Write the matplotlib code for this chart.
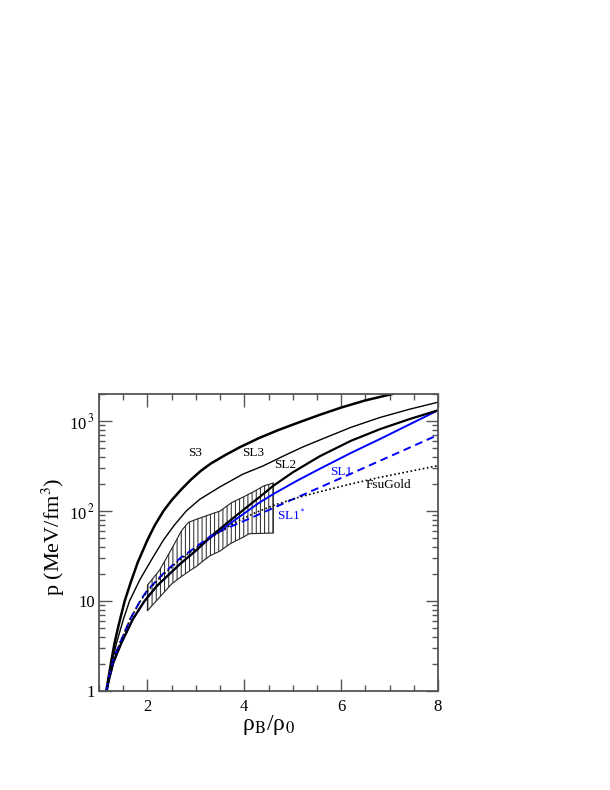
import numpy as np
import matplotlib
matplotlib.use("Agg")
import matplotlib.pyplot as plt
from matplotlib.ticker import FixedLocator, MultipleLocator, LogLocator, NullFormatter

plt.rcParams['font.family'] = ['Liberation Serif', 'DejaVu Serif']
plt.rcParams['mathtext.fontset'] = 'stix'
plt.rcParams['hatch.linewidth'] = 0.7

# ---- data (rho_B/rho_0 , pressure MeV/fm^3) ----
s3_x = [1.15, 1.2, 1.25, 1.32, 1.4, 1.53, 1.65, 1.8, 2.0, 2.15, 2.33, 2.5, 2.7, 2.9, 3.1,
        3.3, 3.6, 3.91, 4.3, 4.7, 5.1, 5.56, 6.0, 6.5, 7.05]
s3_p = [1.0, 1.445, 2.09, 3.39, 5.25, 10, 15.8, 26.9, 47.6, 69.2, 100, 132, 174, 224, 279,
        335, 417, 513, 646, 794, 955, 1175, 1413, 1698, 1995]

sl3_x = [1.15, 1.2, 1.28, 1.36, 1.5, 1.63, 1.85, 2.08, 2.33, 2.55, 2.8, 3.08, 3.5, 3.97,
         4.38, 4.8, 5.2, 5.56, 6.2, 6.8, 7.4, 8.0]
sl3_p = [1.0, 1.41, 2.19, 3.39, 6.17, 10, 17.5, 28.5, 47.6, 69.2, 100, 135, 186, 257,
         316, 407, 513, 617, 851, 1096, 1349, 1622]

sl2_x = [1.16, 1.2, 1.3, 1.46, 1.7, 1.94, 2.2, 2.67, 3.0, 3.29, 3.65, 4.0, 4.3, 4.6, 5.0,
         5.56, 6.2, 6.8, 7.4, 8.0]
sl2_p = [1.0, 1.3, 2.1, 3.4, 6.3, 10, 14.8, 25.7, 36.3, 51.3, 74.1, 105, 141, 191, 269,
         407, 603, 813, 1047, 1318]

sl1_x = [1.16, 1.2, 1.3, 1.46, 1.7, 1.94, 2.2, 2.67, 3.0, 3.29, 3.65, 4.0, 4.3, 4.63, 5.1,
         5.56, 6.2, 6.8, 7.4, 8.0]
sl1_p = [1.0, 1.3, 2.1, 3.4, 6.3, 10, 14.8, 25.7, 36.3, 50.1, 69.2, 94.4, 123, 158, 219,
         295, 442, 631, 912, 1318]

sl1s_x = [1.15, 1.2, 1.3, 1.43, 1.65, 1.87, 2.0, 2.3, 2.67, 3.0, 3.29, 3.6, 4.12, 5.0, 6.18, 8.0]
sl1s_p = [1.0, 1.41, 2.29, 3.39, 6.4, 10.5, 13.2, 19.5, 29.8, 39.8, 52, 63, 83, 135, 257, 701]

fsu_x = [1.15, 1.2, 1.3, 1.43, 1.65, 1.87, 2.0, 2.3, 2.67, 3.0, 3.29, 3.8, 4.2, 4.63, 5.1,
         5.56, 6.2, 6.8, 7.4, 8.0]
fsu_p = [1.0, 1.41, 2.29, 3.39, 6.4, 10.3, 12.9, 19.1, 28.8, 38.9, 50.1, 74.1, 94.4, 117, 141,
         164, 200, 237, 275, 320]

# flow constraint band (upper / lower boundaries)
band_up_x = [2.0, 2.25, 2.5, 2.7, 2.85, 3.2, 3.5, 3.75, 4.0, 4.2, 4.4, 4.6]
band_up_p = [15, 22, 38, 60, 75, 88, 100, 125, 145, 165, 190, 205]
band_lo_x = [2.0, 2.25, 2.5, 2.75, 3.0, 3.3, 3.5, 3.7, 4.0, 4.1, 4.6]
band_lo_p = [7.8, 11, 15.5, 19.5, 24, 32, 36, 43, 52, 56, 57]

xticks = [2, 4, 6, 8]
yticks = [1, 10, 100, 1000]
ytick_labels = ['1', '10', r'10$^{\,2}$', r'10$^{\,3}$']

blue = '#0000ff'

fig = plt.figure(figsize=(6.1, 7.9), dpi=100)
ax = fig.add_axes([99/610, 1 - 691/790, (438 - 99)/610, (691 - 394)/790])
ax.set_yscale('log')
ax.set_xlim(1, 8)
ax.set_ylim(1, 2000)

# band
bx = np.union1d(band_up_x, band_lo_x)
up = np.interp(bx, band_up_x, band_up_p)
lo = np.interp(bx, band_lo_x, band_lo_p)
ax.fill_between(bx, lo, up, facecolor='none', edgecolor='#222222', hatch='||||', linewidth=0.8)

ax.plot(sl1_x, sl1_p, color=blue, lw=1.4)
ax.plot(s3_x, s3_p, color='black', lw=1.8)
ax.plot(sl3_x, sl3_p, color='black', lw=1.0)
ax.plot(sl2_x, sl2_p, color='black', lw=1.6)
ax.plot(sl1s_x, sl1s_p, color=blue, lw=1.4, ls=(0, (4, 2.5)))
ax.plot(fsu_x, fsu_p, color='black', lw=1.2, ls=(0, (1, 1.5)))

fs = 9.5
ax.text(2.99, 440, 'S3', fontsize=fs, ha='center', va='center')
ax.text(4.18, 440, 'SL3', fontsize=fs, ha='center', va='center')
ax.text(4.84, 324, 'SL2', fontsize=fs, ha='center', va='center')
ax.text(6.0, 273, 'SL1', fontsize=fs, ha='center', va='center', color=blue)
ax.text(6.98, 196, 'FsuGold', fontsize=fs, ha='center', va='center')
ax.text(4.96, 90, r'SL1$^{*}$', fontsize=fs, ha='center', va='center', color=blue)

ax.xaxis.set_major_locator(FixedLocator(xticks))
ax.xaxis.set_minor_locator(MultipleLocator(0.5))
ax.yaxis.set_major_locator(FixedLocator(yticks))
ax.set_yticklabels(ytick_labels)
ax.yaxis.set_minor_locator(LogLocator(base=10, subs=np.arange(2, 10)))
ax.yaxis.set_minor_formatter(NullFormatter())

sp_col = '#555555'
for s in ax.spines.values():
    s.set_color(sp_col)
    s.set_linewidth(1.3)
ax.tick_params(which='both', direction='in', top=True, right=True, color=sp_col, width=1.0)
ax.tick_params(which='major', length=9, labelsize=12)
ax.tick_params(axis='x', which='major', pad=6)
ax.tick_params(axis='y', which='major', pad=3)
ax.tick_params(which='minor', length=4.5)

ax.set_xlabel(r'ρ$_\mathrm{B}$/ρ$_0$', fontsize=17)
ax.set_ylabel(r'p (MeV/fm$^3$)', fontsize=16)
ax.xaxis.set_label_coords(0.5, -0.075)
ax.yaxis.set_label_coords((67 - 99) / 339, 0.52)

fig.savefig('out.png', dpi=100)
